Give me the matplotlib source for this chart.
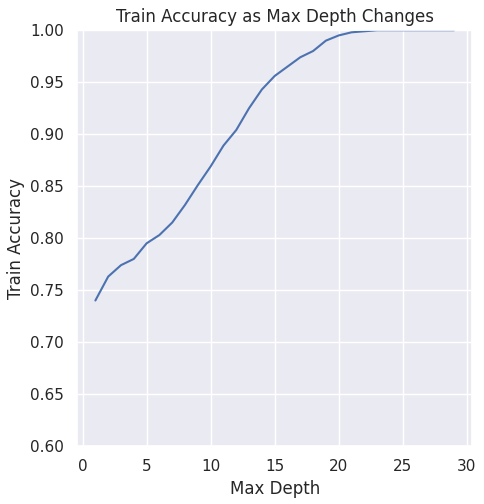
import matplotlib
matplotlib.use("Agg")
import matplotlib.pyplot as plt
import seaborn as sns

sns.set_theme(style="darkgrid")

max_depth = list(range(1, 30))
train_acc = [0.740, 0.763, 0.774, 0.780, 0.795, 0.803, 0.815, 0.832, 0.851, 0.869,
             0.889, 0.904, 0.925, 0.943, 0.956, 0.965, 0.974, 0.980, 0.990, 0.995,
             0.998, 0.999, 1.0, 1.0, 1.0, 1.0, 1.0, 1.0, 1.0]

fig, ax = plt.subplots(figsize=(4.84, 5.04), dpi=100)
ax.plot(max_depth, train_acc)
ax.set_ylim(0.6, 1.0)
ax.set_xticks([0, 5, 10, 15, 20, 25, 30])
ax.set_title("Train Accuracy as Max Depth Changes")
ax.set_xlabel("Max Depth")
ax.set_ylabel("Train Accuracy")
fig.subplots_adjust(left=0.16, right=0.975, top=0.94, bottom=0.115)
fig.savefig("out.png")
